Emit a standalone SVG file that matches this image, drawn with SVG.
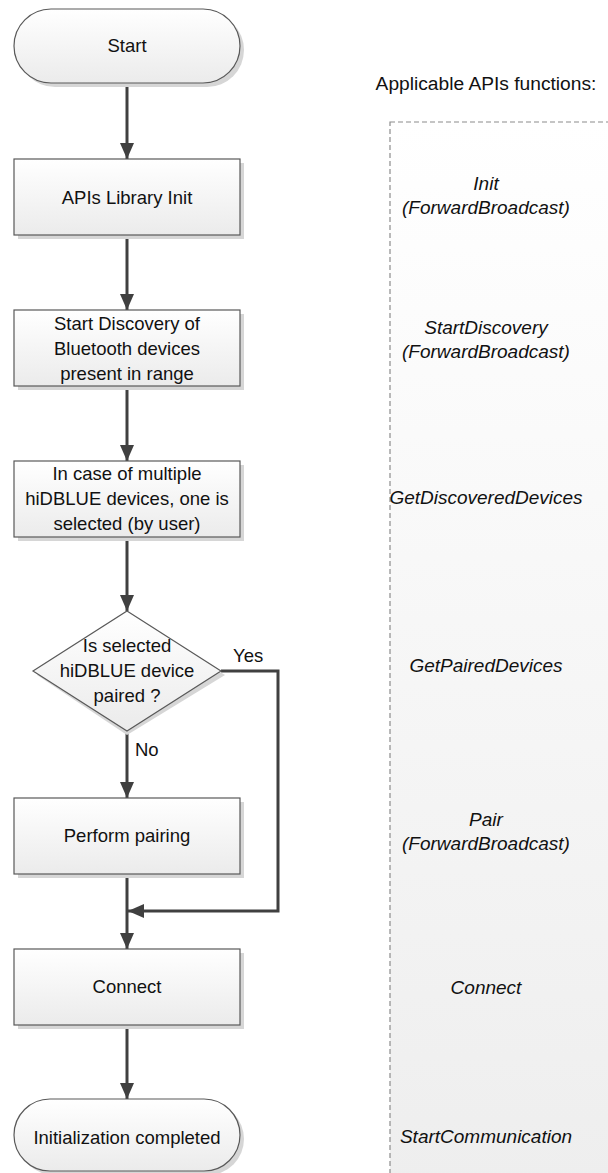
<svg xmlns="http://www.w3.org/2000/svg" width="608" height="1173" viewBox="0 0 608 1173">
<defs>
<linearGradient id="nodeFill" x1="0" y1="0" x2="0" y2="1">
<stop offset="0" stop-color="#ffffff"/>
<stop offset="1" stop-color="#ebebeb"/>
</linearGradient>
<linearGradient id="panelFill" x1="0" y1="0" x2="0" y2="1">
<stop offset="0" stop-color="#ffffff"/>
<stop offset="1" stop-color="#eeeeee"/>
</linearGradient>
<marker id="arrow" viewBox="0 0 16 14" refX="16" refY="7" markerWidth="16" markerHeight="14" markerUnits="userSpaceOnUse" orient="auto">
<path d="M0,0 L16,7 L0,14 Z" fill="#404040"/>
</marker>
<style>
.node{fill:url(#nodeFill);stroke:#595959;stroke-width:1.2}
.shadow{fill:#d6d6d6}
.t{font-family:"Liberation Sans",Arial,sans-serif;font-size:18.5px;fill:#111;text-anchor:middle}
.api{font-family:"Liberation Sans",Arial,sans-serif;font-size:19px;font-style:italic;fill:#111;text-anchor:middle}
.lbl{font-family:"Liberation Sans",Arial,sans-serif;font-size:18.5px;fill:#111}
.head{font-family:"Liberation Sans",Arial,sans-serif;font-size:19.2px;fill:#111;text-anchor:middle}
.conn{fill:none;stroke:#404040;stroke-width:3}
</style>
</defs>
<rect width="608" height="1173" fill="#ffffff"/>

<g id="panel">
<rect x="390" y="122" width="230" height="1060" fill="url(#panelFill)" stroke="#8c8c8c" stroke-width="1.2" stroke-dasharray="5,3"/>
<text class="head" x="486" y="90">Applicable APIs functions:</text>
<text class="api" x="486" y="190">Init</text>
<text class="api" x="486" y="214">(ForwardBroadcast)</text>
<text class="api" x="486" y="334">StartDiscovery</text>
<text class="api" x="486" y="358">(ForwardBroadcast)</text>
<text class="api" x="486" y="504">GetDiscoveredDevices</text>
<text class="api" x="486" y="672">GetPairedDevices</text>
<text class="api" x="486" y="826">Pair</text>
<text class="api" x="486" y="850">(ForwardBroadcast)</text>
<text class="api" x="486" y="994">Connect</text>
<text class="api" x="486" y="1143">StartCommunication</text>
</g>

<g id="connectors">
<line class="conn" x1="127" y1="83" x2="127" y2="159" marker-end="url(#arrow)"/>
<line class="conn" x1="127" y1="235" x2="127" y2="310" marker-end="url(#arrow)"/>
<line class="conn" x1="127" y1="386" x2="127" y2="461" marker-end="url(#arrow)"/>
<line class="conn" x1="127" y1="537" x2="127" y2="611" marker-end="url(#arrow)"/>
<line class="conn" x1="127" y1="731" x2="127" y2="798" marker-end="url(#arrow)"/>
<line class="conn" x1="127" y1="874" x2="127" y2="949" marker-end="url(#arrow)"/>
<polyline class="conn" points="221,671 278,671 278,911 128,911" marker-end="url(#arrow)"/>
<line class="conn" x1="127" y1="1025" x2="127" y2="1099" marker-end="url(#arrow)"/>
<text class="lbl" x="233" y="662">Yes</text>
<text class="lbl" x="135" y="756">No</text>
</g>

<g id="start">
<rect class="shadow" x="18" y="13" width="226" height="74" rx="37"/>
<rect class="node" x="14" y="9" width="226" height="74" rx="37"/>
<text class="t" x="127" y="52">Start</text>
</g>

<g id="init">
<rect class="shadow" x="18" y="163" width="226" height="76"/>
<rect class="node" x="14" y="159" width="226" height="76"/>
<text class="t" x="127" y="204">APIs Library Init</text>
</g>

<g id="discovery">
<rect class="shadow" x="18" y="314" width="226" height="76"/>
<rect class="node" x="14" y="310" width="226" height="76"/>
<text class="t" x="127" y="330">Start Discovery of</text>
<text class="t" x="127" y="355">Bluetooth devices</text>
<text class="t" x="127" y="380">present in range</text>
</g>

<g id="select">
<rect class="shadow" x="18" y="465" width="226" height="76"/>
<rect class="node" x="14" y="461" width="226" height="76"/>
<text class="t" x="127" y="480">In case of multiple</text>
<text class="t" x="127" y="505">hiDBLUE devices, one is</text>
<text class="t" x="127" y="530">selected (by user)</text>
</g>

<g id="decision">
<polygon class="shadow" points="127,615 225,675 127,735 37,675"/>
<polygon class="node" points="127,611 221,671 127,731 33,671"/>
<text class="t" x="127" y="652">Is selected</text>
<text class="t" x="127" y="677">hiDBLUE device</text>
<text class="t" x="127" y="702">paired ?</text>
</g>

<g id="pairing">
<rect class="shadow" x="18" y="802" width="226" height="76"/>
<rect class="node" x="14" y="798" width="226" height="76"/>
<text class="t" x="127" y="842">Perform pairing</text>
</g>

<g id="connect">
<rect class="shadow" x="18" y="953" width="226" height="76"/>
<rect class="node" x="14" y="949" width="226" height="76"/>
<text class="t" x="127" y="993">Connect</text>
</g>

<g id="end">
<rect class="shadow" x="18" y="1103" width="226" height="72" rx="36"/>
<rect class="node" x="14" y="1099" width="226" height="72" rx="36"/>
<text class="t" x="127" y="1144">Initialization completed</text>
</g>
</svg>
